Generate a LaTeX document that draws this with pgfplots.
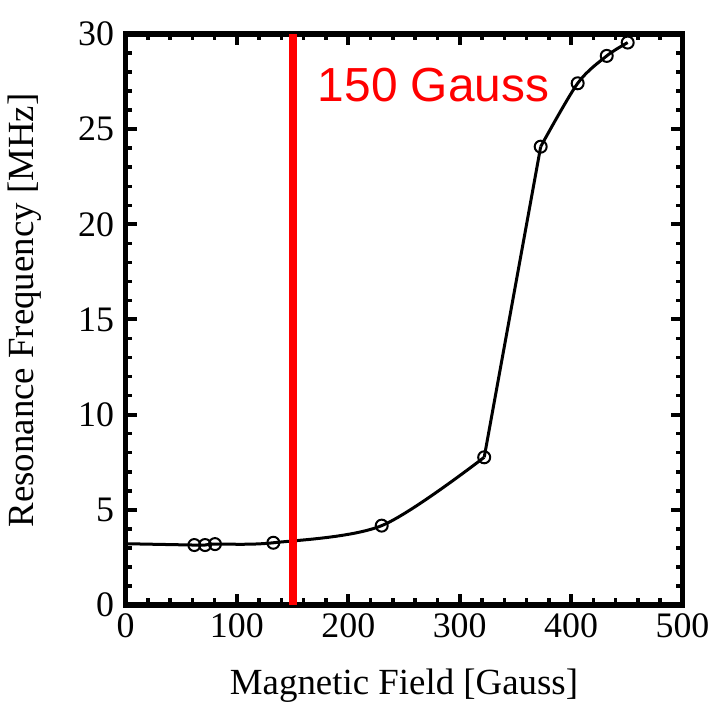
\documentclass[border=0pt]{standalone}
\usepackage{fontspec}
\setmainfont{Liberation Serif}
\newfontfamily\annotfont{Liberation Sans}
\usepackage{pgfplots}
\pgfplotsset{compat=1.18}

% Measured resonance frequency versus applied magnetic field
\pgfplotstableread{
field freq
61.8  3.15
71.4  3.15
80.3  3.20
132.7 3.27
230.0 4.17
322.0 7.76
372.7 24.08
405.9 27.41
432.0 28.85
450.8 29.55
}\measured

\begin{document}
\begin{tikzpicture}
\begin{axis}[
  name=ax,
  scale only axis,
  width=557bp, height=571bp,
  xmin=0, xmax=500, ymin=0, ymax=30,
  xtick={0,100,...,500}, ytick={0,5,...,30},
  minor x tick num=4, minor y tick num=4,
  tick align=inside, tick pos=both,
  major tick length=11bp, minor tick length=6.5bp,
  major tick style={line width=4bp, black},
  minor tick style={line width=3.5bp, black},
  axis line style={line width=5.5bp, line cap=rect},
  /pgf/number format/assume math mode=true,
  ticklabel style={font=\fontsize{36}{40}\selectfont},
  xticklabel style={yshift=-5bp},
  yticklabel style={xshift=-8bp},
  label style={font=\fontsize{37}{40}\selectfont},
  xlabel={Magnetic Field [Gauss]},
  ylabel={Resonance Frequency [MHz]},
  xlabel style={yshift=-24bp},
  ylabel style={yshift=30bp, xshift=9bp},
  clip=true,
]
  % fitted curve through the measurements
  \addplot[black, line width=3bp, smooth, no marks] coordinates {
    (0,3.22) (61.8,3.15) (71.4,3.15) (80.3,3.20) (132.7,3.27) (230.0,4.17) (322.0,7.76)};
  \addplot[black, line width=3bp, no marks] coordinates {(322.0,7.76) (372.7,24.08)};
  \addplot[black, line width=3bp, smooth, no marks] coordinates {
    (372.7,24.08) (405.9,27.41) (432.0,28.85) (450.8,29.55)};
  % measured points
  \addplot[only marks, black, mark=o, mark size=6bp, mark options={line width=2bp}]
    table[x=field, y=freq] {\measured};
  % operating field
  \addplot[red, line width=8bp, no marks] coordinates {(150,0) (150,30)};
  \node[anchor=base west, inner sep=0pt, text=red,
        font=\annotfont\fontsize{48}{52}\selectfont]
    at (axis cs:172.5,26.45) {150 Gauss};
\end{axis}
\pgfresetboundingbox
\path (ax.south west) ++(-125.5bp,-102bp) rectangle ++(714bp,707bp);
\end{tikzpicture}
\end{document}
